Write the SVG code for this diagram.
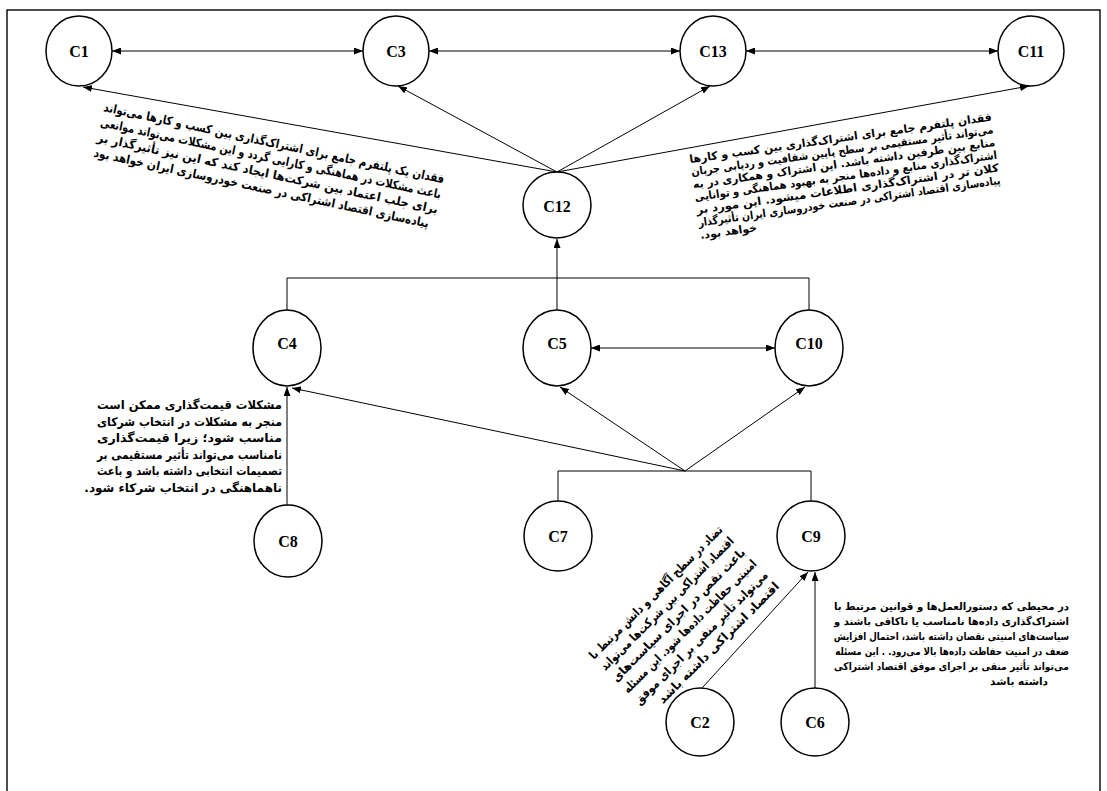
<svg xmlns="http://www.w3.org/2000/svg" width="1107" height="791" viewBox="0 0 1107 791">
<style>
.node ellipse{fill:#fff;stroke:#000;stroke-width:1.5}
.node text{font-family:"Liberation Serif",serif;font-weight:bold;font-size:16px;text-anchor:middle;dominant-baseline:central;fill:#000}
.conn line,.conn path{stroke:#000;stroke-width:1;fill:none}
.fa{font-family:"DejaVu Sans",sans-serif;font-weight:bold;font-size:12px;fill:#000}
.fs{font-family:"DejaVu Sans",sans-serif;font-weight:bold;font-size:11px;fill:#000}
.fc{font-family:"DejaVu Sans",sans-serif;font-weight:bold;font-size:10.5px;fill:#000;text-anchor:end}
</style>
<defs>
<marker id="ah" viewBox="0 0 9 7" refX="9" refY="3.5" markerWidth="9" markerHeight="7" markerUnits="userSpaceOnUse" orient="auto-start-reverse"><path d="M0,0 L9,3.5 L0,7 z" fill="#000"/></marker>
</defs>
<rect x="7" y="10" width="1093" height="800" fill="#fff" stroke="#000" stroke-width="1.4"/>
<g class="conn" id="connectors">
<line x1="112" y1="51" x2="363" y2="51" marker-start="url(#ah)" marker-end="url(#ah)"/>
<line x1="429" y1="51" x2="680" y2="51" marker-start="url(#ah)" marker-end="url(#ah)"/>
<line x1="746" y1="51" x2="998" y2="51" marker-start="url(#ah)" marker-end="url(#ah)"/>
<line x1="557" y1="172" x2="83" y2="87" marker-end="url(#ah)"/>
<line x1="557" y1="172" x2="398" y2="86" marker-end="url(#ah)"/>
<line x1="557" y1="172" x2="710" y2="86" marker-end="url(#ah)"/>
<line x1="557" y1="172" x2="1029" y2="86" marker-end="url(#ah)"/>
<line x1="557" y1="310" x2="557" y2="239" marker-end="url(#ah)"/>
<path d="M287,310 V278 H809 V310"/>
<line x1="591" y1="348" x2="775" y2="348" marker-start="url(#ah)" marker-end="url(#ah)"/>
<line x1="685" y1="471" x2="292" y2="388" marker-end="url(#ah)"/>
<line x1="685" y1="471" x2="560" y2="387" marker-end="url(#ah)"/>
<line x1="685" y1="471" x2="805" y2="387" marker-end="url(#ah)"/>
<path d="M558,501 V471 H811 V501"/>
<line x1="287" y1="505" x2="287" y2="387" marker-end="url(#ah)"/>
<line x1="702" y1="688" x2="808" y2="572" marker-end="url(#ah)"/>
<line x1="815" y1="688" x2="815" y2="572" marker-end="url(#ah)"/>
</g>
<g class="node" id="C1"><ellipse cx="79" cy="51" rx="33" ry="35"/><text x="79" y="51">C1</text></g>
<g class="node" id="C3"><ellipse cx="396" cy="51" rx="33" ry="35"/><text x="396" y="51">C3</text></g>
<g class="node" id="C13"><ellipse cx="713" cy="51" rx="33" ry="35"/><text x="713" y="51">C13</text></g>
<g class="node" id="C11"><ellipse cx="1031" cy="51" rx="33" ry="35"/><text x="1031" y="51">C11</text></g>
<g class="node" id="C12"><ellipse cx="557" cy="205" rx="34" ry="33"/><text x="557" y="206">C12</text></g>
<g class="node" id="C4"><ellipse cx="287" cy="348" rx="34" ry="38"/><text x="287" y="343">C4</text></g>
<g class="node" id="C5"><ellipse cx="557" cy="348" rx="34" ry="38"/><text x="557" y="343">C5</text></g>
<g class="node" id="C10"><ellipse cx="809" cy="348" rx="34" ry="38"/><text x="809" y="343">C10</text></g>
<g class="node" id="C7"><ellipse cx="558" cy="536" rx="34" ry="35"/><text x="558" y="536">C7</text></g>
<g class="node" id="C9"><ellipse cx="811" cy="536" rx="34" ry="35"/><text x="811" y="536">C9</text></g>
<g class="node" id="C8"><ellipse cx="288" cy="541" rx="34" ry="36"/><text x="288" y="541">C8</text></g>
<g class="node" id="C2"><ellipse cx="700" cy="722" rx="34" ry="34"/><text x="700" y="722">C2</text></g>
<g class="node" id="C6"><ellipse cx="815" cy="722" rx="34" ry="34"/><text x="815" y="722">C6</text></g>
<g id="note-left" class="fa" transform="translate(103,111) rotate(12)">
<text x="0" y="0" textLength="348" lengthAdjust="spacingAndGlyphs">فقدان یک پلتفرم جامع برای اشتراک&#8204;گذاری بین کسب و کارها می&#8204;تواند</text>
<text x="0" y="15.5" textLength="348" lengthAdjust="spacingAndGlyphs">باعث مشکلات در هماهنگی و کارایی گردد و این مشکلات می&#8204;تواند موانعی</text>
<text x="0" y="31" textLength="348" lengthAdjust="spacingAndGlyphs">برای جلب اعتماد بین شرکت&#8204;ها ایجاد کند که این نیز تأثیرگذار بر</text>
<text x="0" y="46.5" textLength="342" lengthAdjust="spacingAndGlyphs">پیاده&#8204;سازی اقتصاد اشتراکی در صنعت خودروسازی ایران خواهد بود</text>
</g>
<g id="note-right" class="fs" transform="translate(690,163) rotate(-8)">
<text x="0" y="0" textLength="305" lengthAdjust="spacingAndGlyphs">فقدان پلتفرم جامع برای اشتراک&#8204;گذاری بین کسب و کارها</text>
<text x="0" y="12.8" textLength="305" lengthAdjust="spacingAndGlyphs">می&#8204;تواند تأثیر مستقیمی بر سطح پایین شفافیت و ردیابی جریان</text>
<text x="0" y="25.6" textLength="305" lengthAdjust="spacingAndGlyphs">منابع بین طرفین داشته باشد. این اشتراک و همکاری در به</text>
<text x="0" y="38.4" textLength="305" lengthAdjust="spacingAndGlyphs">اشتراک&#8204;گذاری منابع و داده&#8204;ها منجر به بهبود هماهنگی و توانایی</text>
<text x="0" y="51.2" textLength="305" lengthAdjust="spacingAndGlyphs">کلان تر در اشتراک&#8204;گذاری اطلاعات میشود. این مورد بر</text>
<text x="0" y="64" textLength="305" lengthAdjust="spacingAndGlyphs">پیاده&#8204;سازی اقتصاد اشتراکی در صنعت خودروسازی ایران تأثیرگذار</text>
<text x="0" y="76.8">خواهد بود.&#8207;</text>
</g>
<g id="note-c8" class="fa">
<text x="97" y="409" textLength="185" lengthAdjust="spacingAndGlyphs">مشکلات قیمت&#8204;گذاری ممکن است</text>
<text x="97" y="425.5" textLength="185" lengthAdjust="spacingAndGlyphs">منجر به مشکلات در انتخاب شرکای</text>
<text x="97" y="442" textLength="185" lengthAdjust="spacingAndGlyphs">مناسب شود؛ زیرا قیمت&#8204;گذاری</text>
<text x="97" y="458.5" textLength="185" lengthAdjust="spacingAndGlyphs">نامناسب می&#8204;تواند تأثیر مستقیمی بر</text>
<text x="97" y="475" textLength="185" lengthAdjust="spacingAndGlyphs">تصمیمات انتخابی داشته باشد و باعث</text>
<text x="282" y="491.5" text-anchor="end">ناهماهنگی در انتخاب شرکاء شود.&#8207;</text>
</g>
<g id="note-c2" class="fa" transform="translate(594,660) rotate(-45)">
<text x="0" y="0" textLength="183" lengthAdjust="spacingAndGlyphs">تضاد در سطح آگاهی و دانش مرتبط با</text>
<text x="0" y="16" textLength="183" lengthAdjust="spacingAndGlyphs">اقتصاد اشتراکی بین شرکت&#8204;ها می&#8204;تواند</text>
<text x="0" y="32" textLength="183" lengthAdjust="spacingAndGlyphs">باعث نقص در اجرای سیاست&#8204;های</text>
<text x="0" y="48" textLength="183" lengthAdjust="spacingAndGlyphs">امنیتی حفاظت داده&#8204;ها شود. این مسئله</text>
<text x="0" y="64" textLength="183" lengthAdjust="spacingAndGlyphs">می&#8204;تواند تأثیر منفی بر اجرای موفق</text>
<text x="183" y="80" text-anchor="end">اقتصاد اشتراکی داشته باشد</text>
</g>
<g id="note-c6" class="fc">
<text x="1069" y="610" textLength="235" lengthAdjust="spacingAndGlyphs">در محیطی که دستورالعمل&#8204;ها و قوانین مرتبط با</text>
<text x="1069" y="625" textLength="235" lengthAdjust="spacingAndGlyphs">اشتراک&#8204;گذاری داده&#8204;ها نامناسب یا ناکافی باشند و</text>
<text transform="translate(1069,640) scale(0.83,1)" x="0" y="0">سیاست&#8204;های امنیتی نقصان داشته باشد&#1548; احتمال افزایش</text>
<text transform="translate(1069,655) scale(0.83,1)" x="0" y="0">ضعف در امنیت حفاظت داده&#8204;ها بالا می&#8204;رود&#8207;. .&#8207; این مسئله</text>
<text x="1069" y="670" textLength="235" lengthAdjust="spacingAndGlyphs">می&#8204;تواند تأثیر منفی بر اجرای موفق اقتصاد اشتراکی</text>
<text x="1048" y="685">داشته باشد</text>
</g>
</svg>
